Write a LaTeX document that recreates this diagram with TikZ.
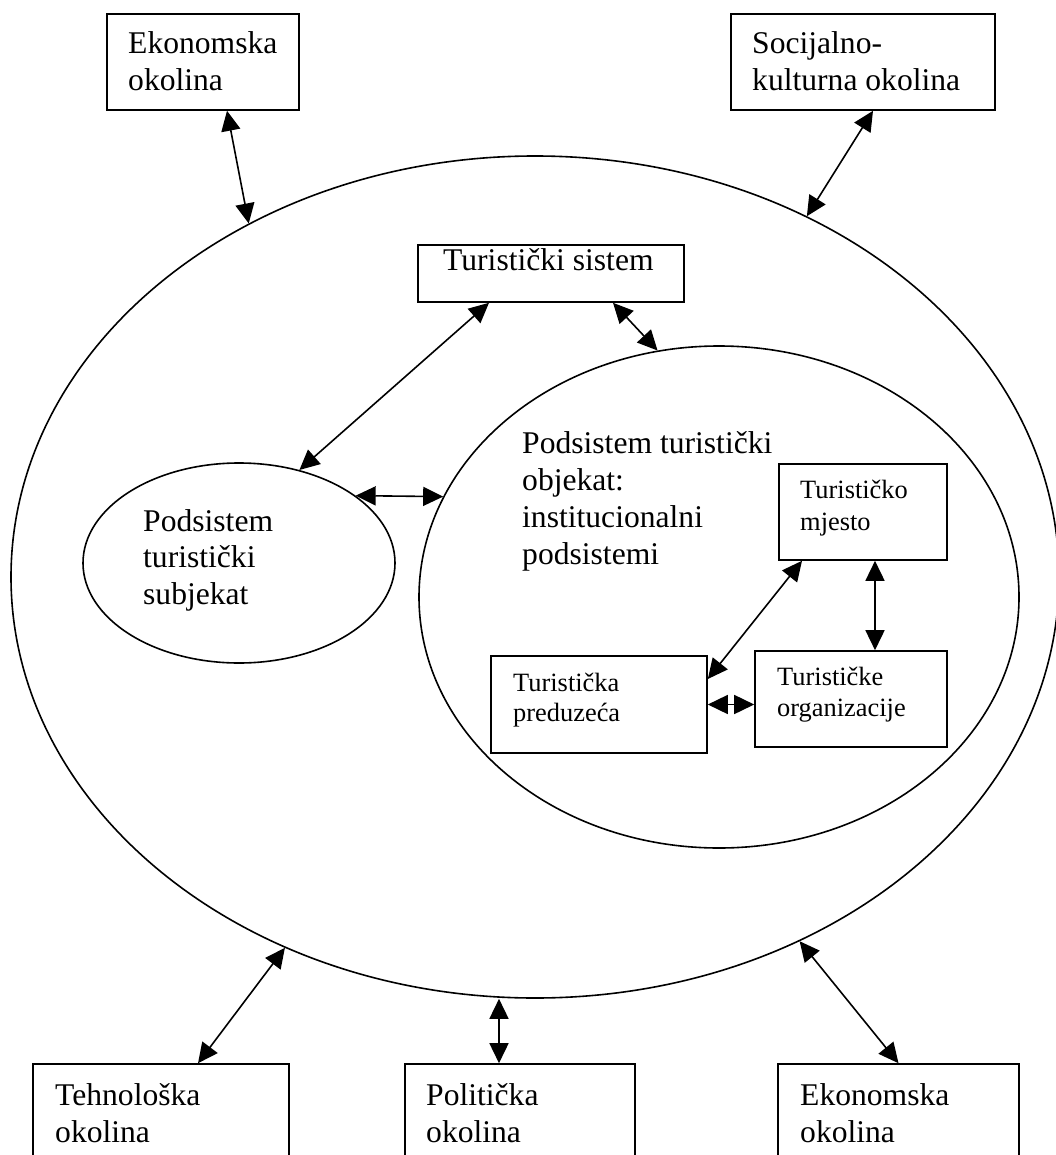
\documentclass[tikz,border=0pt]{standalone}
\usepackage{fontspec}
\setmainfont{Liberation Serif}
\usetikzlibrary{shapes.geometric,arrows.meta,calc}
\newcommand\mtext[2]{\vtop{\baselineskip=#1\lineskiplimit=-100pt\lineskip=0pt\halign{##\hfil\cr#2\crcr}}}
\begin{document}
\begin{tikzpicture}[x=1pt,y=-1pt,
  box/.style={draw, line width=1.6pt, rectangle, inner sep=0pt},
  ell/.style={draw, ellipse, line width=1.6pt, inner sep=0pt},
  big/.style={font=\fontsize{31.6}{37}\selectfont},
  small/.style={font=\fontsize{26.4}{31.7}\selectfont},
  txt/.style={anchor=base west, inner sep=0pt},
  conn/.style={{Triangle[length=20pt,width=19pt]}-{Triangle[length=20pt,width=19pt]}, line width=1.6pt}]
\useasboundingbox (0,0) rectangle (1056,1155);
\clip (0,0) rectangle (1056,1155);

% ellipses
\node[ell, minimum width=1048pt, minimum height=842pt] (E) at (535,577) {};
\node[ell, minimum width=312pt, minimum height=200pt] (S) at (239,563) {};
\node[ell, minimum width=600pt, minimum height=502pt] (I) at (719,597) {};

% boxes
\node[box, minimum width=192pt, minimum height=96pt] (ek1) at (203,62) {};
\node[box, minimum width=264pt, minimum height=96pt] (sk) at (863,62) {};
\node[box, minimum width=266pt, minimum height=57pt] (ts) at (551,273.5) {};
\node[box, minimum width=168pt, minimum height=96pt] (tm) at (863,512) {};
\node[box, minimum width=192pt, minimum height=96pt] (to) at (851,699) {};
\node[box, minimum width=216pt, minimum height=97pt] (tp) at (599,704.5) {};
\node[box, minimum width=256pt, minimum height=96pt] (te) at (161,1112) {};
\node[box, minimum width=230pt, minimum height=96pt] (po) at (520,1112) {};
\node[box, minimum width=241pt, minimum height=96pt] (ek2) at (898.5,1112) {};

% texts
\node[txt,big] (ek1t) at (128,53.3) {\mtext{37.5pt}{Ekonomska\cr okolina}};
\node[txt,big] (skt) at (752,53.3) {\mtext{37.5pt}{Socijalno-\cr kulturna okolina}};
\node[txt,big] (tst) at (443,271) {Turistički sistem};
\node[txt,big] (St) at (143,531) {\mtext{36.5pt}{Podsistem\cr turistički\cr subjekat}};
\node[txt,big] (It) at (522,453) {\mtext{37.3pt}{Podsistem turistički\cr objekat:\cr institucionalni\cr podsistemi}};
\node[txt,small] (tmt) at (800,498.3) {\mtext{31.7pt}{Turističko\cr mjesto}};
\node[txt,small] (tot) at (777,685) {\mtext{31.7pt}{Turističke\cr organizacije}};
\node[txt,small] (tpt) at (513,691.7) {\mtext{30pt}{Turistička\cr preduzeća}};
\node[txt,big] (tet) at (55,1105) {\mtext{37pt}{Tehnološka\cr okolina}};
\node[txt,big] (pot) at (426,1105) {\mtext{37pt}{Politička\cr okolina}};
\node[txt,big] (ek2t) at (800,1105) {\mtext{37pt}{Ekonomska\cr okolina}};

% connectors
\draw[conn] ([xshift=24pt]ek1.south) -- (E.129);
\draw[conn] ([xshift=10pt]sk.south) -- (E.53);
\draw[conn] ([xshift=-62pt]ts.south) -- (S.57);
\draw[conn] ([xshift=62pt]ts.south) -- (I.104);
\draw[conn] (S.30) -- (I.160);
\draw[conn] ([xshift=-61pt]tm.south) -- ([yshift=25.5pt]tp.east);
\draw[conn] ([xshift=12pt]tm.south) -- ([xshift=12pt]tm.south |- to.north);
\draw[conn] (tp.east) -- (tp.east -| to.west);
\draw[conn] (E.236) -- ([xshift=37pt]te.north);
\draw[conn] ([xshift=-21pt]po.north |- E.south) -- ([xshift=-21pt]po.north);
\draw[conn] (E.-54) -- (ek2.north);
\end{tikzpicture}
\end{document}
